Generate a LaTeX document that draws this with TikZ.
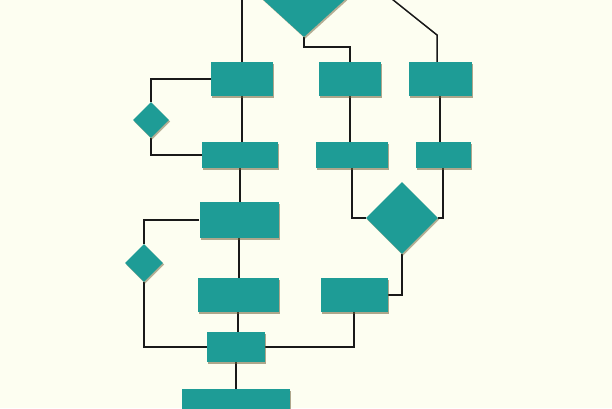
\documentclass[tikz,border=0pt]{standalone}
\usepackage{xcolor}
\usepackage{tikz}
\usetikzlibrary{positioning,shapes.geometric,shadows}

\definecolor{paper}{HTML}{FDFEF1}
\definecolor{tealbox}{HTML}{1E9C96}
\definecolor{shade}{HTML}{6E5F38}
\pgfdeclarelayer{paperlayer}
\pgfdeclarelayer{wirelayer}
\pgfsetlayers{paperlayer,wirelayer,main}

\begin{document}
\begin{tikzpicture}[x=1pt,y=-1pt,
        blk/.style={rectangle,fill=tealbox,inner sep=0pt,
            general shadow={fill=shade,opacity=.55,shadow xshift=1.2pt,shadow yshift=-1.6pt}},
        dec/.style={diamond,fill=tealbox,inner sep=0pt,
            general shadow={fill=shade,opacity=.5,shadow xshift=1.2pt,shadow yshift=-1.6pt}},
        wire/.style={draw=black!90,line width=1.5pt}]
    \begin{pgfonlayer}{paperlayer}
        \fill[paper] (0,0) rectangle (612,408);
    \end{pgfonlayer}
    \useasboundingbox (0,0) rectangle (612,408);
    \node (top) [dec,minimum width=90pt,minimum height=82pt] at (304,-4) {};
    \node (boxA) [blk,minimum width=62pt,minimum height=34pt] at (242,79) {};
    \node (boxB) [blk,minimum width=62pt,minimum height=34pt] at (350,79) {};
    \node (boxC) [blk,minimum width=63pt,minimum height=34pt] at (440,79) {};
    \node (boxD) [blk,minimum width=76pt,minimum height=26pt] at (240,155) {};
    \node (boxE) [blk,minimum width=72pt,minimum height=26pt] at (352,155) {};
    \node (boxF) [blk,minimum width=55pt,minimum height=26pt] at (443,155) {};
    \node (askA) [dec,minimum width=36pt,minimum height=36pt] at (151,120) {};
    \node (boxG) [blk,minimum width=79pt,minimum height=36pt] at (239,220) {};
    \node (askB) [dec,minimum width=38pt,minimum height=38pt] at (144,263) {};
    \node (askC) [dec,minimum width=72pt,minimum height=72pt] at (402,218) {};
    \node (boxI) [blk,minimum width=81pt,minimum height=34pt] at (238,295) {};
    \node (boxH) [blk,minimum width=67pt,minimum height=34pt] at (354,295) {};
    \node (boxJ) [blk,minimum width=58pt,minimum height=30pt] at (236,347) {};
    \node (boxK) [blk,minimum width=108pt,minimum height=36pt] at (236,407) {};
    \coordinate (bend) at (437,35);

    % wires go under the boxes
    \begin{pgfonlayer}{wirelayer}
    \draw[wire] (top.west) -| (boxA.north);
    \draw[wire] (top.south) -- ++(0,10) -| (boxB.north);
    \draw[wire] (top.east) -- ++(39,0) -- (bend) -- (bend |- boxC.north);
    \draw[wire] (boxA.south) -- (boxA.south |- boxD.north);
    \draw[wire] (boxB.south) -- (boxB.south |- boxE.north);
    \draw[wire] (boxC.south) -- (boxC.south |- boxF.north);
    \draw[wire] (boxA.west) -| (askA.north);
    \draw[wire] (askA.south) |- (boxD.west);
    \draw[wire] (boxD.south) -- (boxD.south |- boxG.north);
    \draw[wire] (boxG.west) -| (askB.north);
    \draw[wire] (boxG.south) -- (boxG.south |- boxI.north);
    \draw[wire] (boxI.south) -- (boxI.south |- boxJ.north);
    \draw[wire] (boxJ.south) -- (boxK.north);
    \draw[wire] (askB.south) |- (boxJ.west);
    \draw[wire] (boxJ.east) -| (boxH.south);
    \draw[wire] (boxE.south) |- (askC.west);
    \draw[wire] (boxF.south) |- (askC.east);
    \draw[wire] (askC.south) |- (boxH.east);
    \end{pgfonlayer}
\end{tikzpicture}
\end{document}
